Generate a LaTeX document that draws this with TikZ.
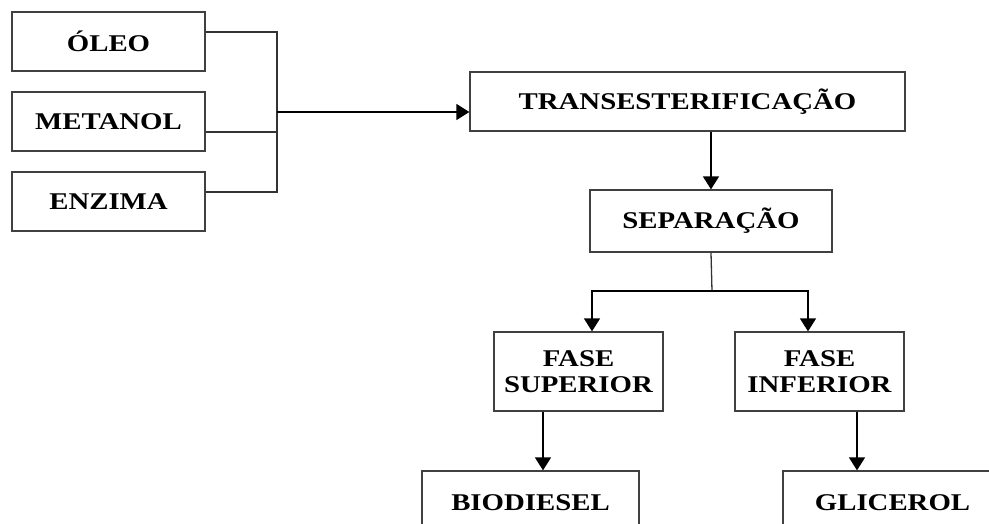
\documentclass[tikz,border=0pt]{standalone}
\usepackage{fontspec}
\newfontfamily\lbl{Liberation Serif}[FakeStretch=1.2]
\usetikzlibrary{arrows.meta,calc}
\tikzset{
  box/.style={draw=black!75, line width=1.3pt, fill=white, align=center,
    font=\lbl\bfseries\fontsize{24}{28}\selectfont, inner sep=0pt},
  conn/.style={draw=black!80, line width=1.3pt},
  arr/.style={draw=black, line width=1.5pt, -{Triangle[length=13pt,width=16pt]}}
}
\begin{document}
\begin{tikzpicture}[x=1pt,y=-1pt]
\useasboundingbox (0,0) rectangle (989,524);
\fill[white] (0,0) rectangle (989,524);
\clip (0,0) rectangle (989,524);
\node[box, minimum width=193, minimum height=59] (oleo) at (108.5,41.5) {ÓLEO};
\node[box, minimum width=193, minimum height=59] (met) at (108.5,121.5) {METANOL};
\node[box, minimum width=193, minimum height=59] (enz) at (108.5,201.5) {ENZIMA};
\node[box, minimum width=435, minimum height=59] (trans) at (687.5,101.5) {TRANSESTERIFICAÇÃO};
\node[box, minimum width=242, minimum height=62] (sep) at (711,221) {SEPARAÇÃO};
\node[box, minimum width=169, minimum height=79] (fs) at (578.5,371.5) {FASE\\[-2pt]SUPERIOR};
\node[box, minimum width=169, minimum height=79] (fi) at (819.5,371.5) {FASE\\[-2pt]INFERIOR};
\node[box, minimum width=217, minimum height=64] (bio) at (530.5,503) {BIODIESEL};
\node[box, minimum width=219, minimum height=64] (gli) at (892.5,503) {GLICEROL};
\coordinate (j) at (277,112);
\coordinate (b) at (712,291);
\draw[conn] ([yshift=9.5pt]oleo.east) -| (j);
\draw[conn] ([yshift=-10.5pt]met.east) -- ([yshift=-10.5pt]met.east -| j);
\draw[conn] ([yshift=9.5pt]enz.east) -| (j);
\draw[arr] (j) -- (j -| trans.west);
\draw[arr] (sep.north |- trans.south) -- (sep.north);
\draw[conn] (sep.south) -- (b);
\draw[arr] (b) -| ([xshift=13.5pt]fs.north);
\draw[arr] (b) -| ([xshift=-11.5pt]fi.north);
\draw[arr] ([xshift=-35.5pt]fs.south) -- ([xshift=-35.5pt]fs.south |- bio.north);
\draw[arr] ([xshift=37.5pt]fi.south) -- ([xshift=37.5pt]fi.south |- gli.north);
\end{tikzpicture}
\end{document}
